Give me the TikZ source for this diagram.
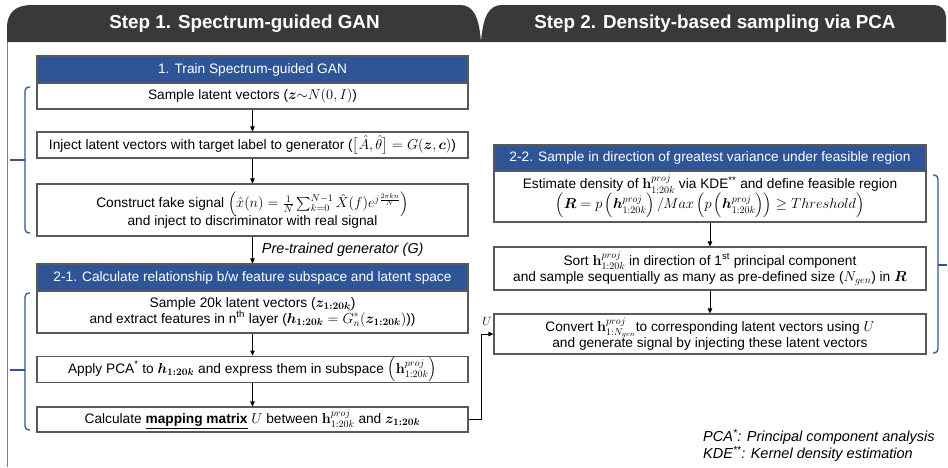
\documentclass[tikz,border=0pt]{standalone}
\usepackage{amsmath,amssymb}
\usepackage[no-math]{fontspec}
\setmainfont{Liberation Sans}
\usepackage{bm}
\usetikzlibrary{arrows.meta}
\definecolor{tabdark}{RGB}{59,56,56}
\definecolor{hdrblue}{RGB}{47,85,151}
\definecolor{brblue}{RGB}{47,85,151}
\definecolor{boxgray}{RGB}{89,89,89}
\definecolor{framegray}{RGB}{128,128,128}
\begin{document}
\begin{tikzpicture}[x=1pt,y=-1pt,
  box/.style={draw=boxgray,line width=1.1pt,fill=white,minimum width=431pt,inner sep=1pt,align=center,font=\fontsize{13.7}{17}\selectfont},
  bluehead/.style={box,fill=hdrblue,text=white},
  arr/.style={-{Triangle[length=5pt,width=4.5pt]},line width=0.8pt},
  brace/.style={draw=brblue,line width=1.3pt,rounded corners=4pt},
  tabtext/.style={text=white,font=\fontsize{18.8}{20}\selectfont\bfseries},
  note/.style={anchor=west,font=\fontsize{14.5}{16}\selectfont\itshape,inner sep=0pt},
]
\useasboundingbox (0,0) rectangle (948,467);
% tabs
\fill[tabdark] (7,42) -- (7,28) .. controls (7,12) and (16,5) .. (32,5) -- (460,5) .. controls (473,5) and (479,16) .. (481,42) -- cycle;
\fill[tabdark] (481,42) .. controls (483,16) and (489,5) .. (502,5) -- (934,5) .. controls (941,5) and (946,10) .. (946,17) -- (946,42) -- cycle;
\node[tabtext] (t1) at (244.5,23.5) {Step 1. Spectrum-guided GAN};
\node[tabtext] (t2) at (715,23.5) {Step 2. Density-based sampling via PCA};
% left frame line
\draw[framegray,line width=0.9pt] (7.5,42) -- (7.5,467);
% left column
\node[bluehead,minimum height=27pt] (h1) at (252.5,69.5) {1. Train Spectrum-guided GAN};
\node[box,minimum height=26pt] (b1) at (252.5,96) {Sample latent vectors ($\boldsymbol{z}{\sim}N(0,I)$)};
\node[box,minimum height=26pt] (b2) at (252.5,145) {Inject latent vectors with target label to generator ($\big[\hat{A},\hat{\theta}\big]=G(\boldsymbol{z},\boldsymbol{c})$)};
\node[box,minimum height=52pt] (b3) at (252.5,210) {Construct fake signal $\left(\hat{x}(n)=\frac{1}{N}\sum_{k=0}^{N-1}\hat{X}(f)e^{j\frac{2\pi kn}{N}}\right)$\\[-2pt] and inject to discriminator with real signal};
\node[bluehead,minimum height=27pt] (h2) at (252.5,277.5) {2-1. Calculate relationship b/w feature subspace and latent space};
\node[box,minimum height=42pt] (b4) at (252.5,312) {Sample 20k latent vectors ($\boldsymbol{z}_{\boldsymbol{1:20k}}$)\\[-1pt] and extract features in n\textsuperscript{th} layer ($\boldsymbol{h}_{\boldsymbol{1:20k}}=\hat{G}_n^*(\boldsymbol{z}_{\boldsymbol{1:20k}})$))};
\node[box,minimum height=25pt] (b5) at (252.5,369.5) {Apply PCA\textsuperscript{*} to $\boldsymbol{h}_{\boldsymbol{1:20k}}$ and express them in subspace $\left(\mathbf{h}^{proj}_{1:20k}\right)$};
\node[box,minimum height=25pt] (b6) at (252.5,419.5) {Calculate \underline{\textbf{mapping matrix}} $U$ between $\mathbf{h}^{proj}_{1:20k}$ and $\boldsymbol{z}_{\boldsymbol{1:20k}}$};
\draw[arr] (b1) -- (b2);
\draw[arr] (b2) -- (b3);
\draw[arr] (b3) -- node[right=9pt,font=\fontsize{14.4}{16}\selectfont\itshape,inner sep=0pt] (lbl) {Pre-trained generator (G)} (h2);
\draw[arr] (b4) -- (b5);
\draw[arr] (b5) -- (b6);
% right column
\node[bluehead,minimum width=432pt,minimum height=26pt] (h3) at (710,158) {2-2. Sample in direction of greatest variance under feasible region};
\node[box,minimum width=432pt,minimum height=51pt] (b7) at (710,196.5) {Estimate density of $\mathbf{h}^{proj}_{1:20k}$ via KDE\textsuperscript{**} and define feasible region\\[-1pt] $\left(\boldsymbol{R}=p\left(\boldsymbol{h}^{proj}_{1:20k}\right)/Max\left(p\left(\boldsymbol{h}^{proj}_{1:20k}\right)\right)\geq Threshold\right)$};
\node[box,minimum width=432pt,minimum height=43pt] (b8) at (710,268.5) {Sort $\mathbf{h}^{proj}_{1:20k}$ in direction of 1\textsuperscript{st} principal component\\[-1pt] and sample sequentially as many as pre-defined size ($N_{gen}$) in $\boldsymbol{R}$};
\node[box,minimum width=432pt,minimum height=40pt] (b9) at (710,334) {Convert $\mathbf{h}^{proj}_{1:N_{gen}}$to corresponding latent vectors using $U$\\[-1pt] and generate signal by injecting these latent vectors};
\draw[arr] (b7) -- (b8);
\draw[arr] (b8) -- (b9);
% connector U
\draw[arr] (b6.east) -- ++(13,0) |- (b9.west);
\node[font=\fontsize{13}{14}\selectfont,inner sep=0pt] (ulbl) at (487,321) {$U$};
% braces
\draw[brace] (30,87) -- (25,87) -- (25,233) -- (30,233);
\draw[brace,rounded corners=0pt] (25,160) -- (10,160);
\draw[brace] (30,293) -- (25,293) -- (25,430) -- (30,430);
\draw[brace,rounded corners=0pt] (25,370) -- (10,370);
\draw[brace] (933,175) -- (938,175) -- (938,353) -- (933,353);
\draw[brace,rounded corners=0pt] (938,265) -- (947,265);
% notes
\node[note] (n1) at (703,437) {PCA\textsuperscript{*}: Principal component analysis};
\node[note] (n2) at (703,454) {KDE\textsuperscript{**}: Kernel density estimation};
\end{tikzpicture}
\end{document}
